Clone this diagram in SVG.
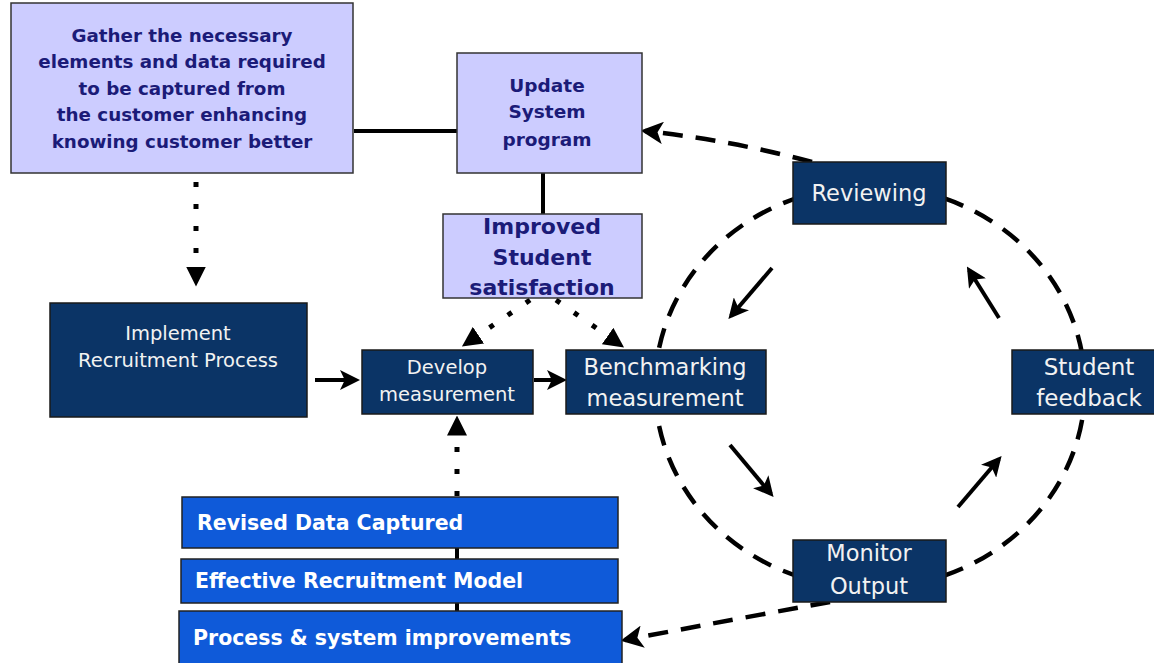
<svg xmlns="http://www.w3.org/2000/svg" width="1154" height="663" viewBox="0 0 1154 663">
<style>
.lite{fill:#ccccff;stroke:#333;stroke-width:1.5}
.dark{fill:#0b3466;stroke:#1a1a1a;stroke-width:1.5}
.blue{fill:#0f5ad9;stroke:#222;stroke-width:1.5}
.lt{font-family:"DejaVu Sans","Liberation Sans",sans-serif;font-weight:bold;fill:#1b1b78;text-anchor:middle}
.dt{font-family:"DejaVu Sans","Liberation Sans",sans-serif;fill:#f2f2f2;text-anchor:middle}
.bt{font-family:"DejaVu Sans","Liberation Sans",sans-serif;font-weight:bold;fill:#ffffff;font-size:20.5px}
.solid{stroke:#000;stroke-width:4;fill:none}
.dash{stroke:#000;stroke-width:4.5;fill:none;stroke-dasharray:20 13}
.dot{stroke:#000;stroke-width:5;fill:none;stroke-dasharray:5 17}
</style>
<defs>
<marker id="ah" markerWidth="5" markerHeight="5" refX="4" refY="2.5" orient="auto" markerUnits="strokeWidth">
<path d="M0,0 L5,2.5 L0,5 L1.2,2.5 Z" fill="#000"/>
</marker>
<marker id="ahd" markerWidth="4" markerHeight="4" refX="3.5" refY="2" orient="auto" markerUnits="strokeWidth">
<path d="M0,0 L4,2 L0,4 Z" fill="#000"/>
</marker>
</defs>
<g id="connectors">
<ellipse cx="870" cy="387" rx="215" ry="201" class="dash"/>
<line x1="354" y1="131" x2="457" y2="131" class="solid"/>
<line x1="543" y1="173" x2="543" y2="214" class="solid"/>
<line x1="457" y1="548" x2="457" y2="559" class="solid"/>
<line x1="457" y1="603" x2="457" y2="611" class="solid"/>
<line x1="315" y1="380" x2="356" y2="380" class="solid" marker-end="url(#ah)"/>
<line x1="534" y1="380" x2="563" y2="380" class="solid" marker-end="url(#ah)"/>
<line x1="772" y1="268" x2="731" y2="316" class="solid" marker-end="url(#ah)"/>
<line x1="730" y1="445" x2="771" y2="494" class="solid" marker-end="url(#ah)"/>
<line x1="958" y1="507" x2="999" y2="459" class="solid" marker-end="url(#ah)"/>
<line x1="999" y1="318" x2="969" y2="270" class="solid" marker-end="url(#ah)"/>
<line x1="196" y1="182" x2="196" y2="284" class="dot" marker-end="url(#ahd)"/>
<line x1="457" y1="496" x2="457" y2="418" class="dot" marker-end="url(#ahd)"/>
<line x1="530" y1="300" x2="464" y2="345" class="dot" marker-end="url(#ahd)"/>
<line x1="556" y1="300" x2="622" y2="346" class="dot" marker-end="url(#ahd)"/>
<path d="M812,162 Q730,140 645,131" class="dash" marker-end="url(#ah)"/>
<path d="M830,602 Q730,620 625,640" class="dash" marker-end="url(#ah)"/>
</g>
<g id="gather">
<rect x="11" y="3" width="342" height="170" class="lite"/>
<text class="lt" font-size="18.3"><tspan x="182" y="42">Gather the necessary</tspan><tspan x="182" y="68">elements and data required</tspan><tspan x="182" y="95">to be captured from</tspan><tspan x="182" y="121">the customer enhancing</tspan><tspan x="182" y="148">knowing customer better</tspan></text>
</g>
<g id="update">
<rect x="457" y="53" width="185" height="120" class="lite"/>
<text class="lt" font-size="18.5"><tspan x="547" y="92">Update</tspan><tspan x="547" y="118">System</tspan><tspan x="547" y="146">program</tspan></text>
</g>
<g id="improved">
<rect x="443" y="214" width="199" height="84" class="lite"/>
<text class="lt" font-size="22"><tspan x="542" y="234">Improved</tspan><tspan x="542" y="265">Student</tspan><tspan x="542" y="295">satisfaction</tspan></text>
</g>
<g id="implement">
<rect x="50" y="303" width="257" height="114" class="dark"/>
<text class="dt" font-size="19.5"><tspan x="178" y="340">Implement</tspan><tspan x="178" y="367">Recruitment Process</tspan></text>
</g>
<g id="develop">
<rect x="362" y="350" width="171" height="64" class="dark"/>
<text class="dt" font-size="19.5"><tspan x="447" y="374">Develop</tspan><tspan x="447" y="401">measurement</tspan></text>
</g>
<g id="benchmarking">
<rect x="566" y="350" width="200" height="64" class="dark"/>
<text class="dt" font-size="22.5"><tspan x="665" y="375">Benchmarking</tspan><tspan x="665" y="406">measurement</tspan></text>
</g>
<g id="reviewing">
<rect x="793" y="162" width="153" height="62" class="dark"/>
<text class="dt" font-size="22.5" x="869" y="201">Reviewing</text>
</g>
<g id="feedback">
<rect x="1012" y="350" width="145" height="64" class="dark"/>
<text class="dt" font-size="23"><tspan x="1089" y="375">Student</tspan><tspan x="1089" y="406">feedback</tspan></text>
</g>
<g id="monitor">
<rect x="793" y="540" width="153" height="62" class="dark"/>
<text class="dt" font-size="22.5"><tspan x="869" y="561">Monitor</tspan><tspan x="869" y="594">Output</tspan></text>
</g>
<g id="revised">
<rect x="182" y="497" width="436" height="51" class="blue"/>
<text class="bt" x="197" y="530">Revised Data Captured</text>
</g>
<g id="effective">
<rect x="181" y="559" width="437" height="44" class="blue"/>
<text class="bt" x="195" y="588">Effective Recruitment Model</text>
</g>
<g id="process">
<rect x="179" y="611" width="443" height="54" class="blue"/>
<text class="bt" x="193" y="645">Process &amp; system improvements</text>
</g>
</svg>
